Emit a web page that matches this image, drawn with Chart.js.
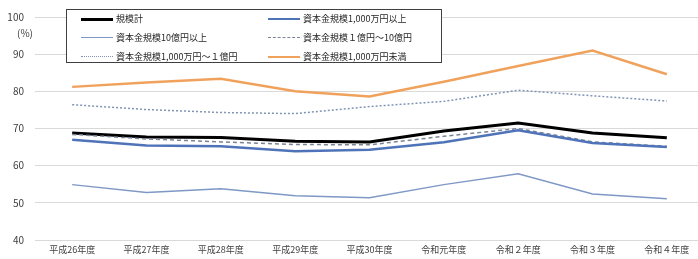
<!DOCTYPE html>
<html>
<head>
<meta charset="utf-8">
<script src="https://cdn.jsdelivr.net/npm/chart.js@4"></script>
<style>
    html, body { margin: 0; padding: 0; background: #fff; overflow: hidden; }
    body { width: 698px; height: 259px; position: relative; font-family: "Noto Sans CJK JP", sans-serif; }
    #wrap { position: absolute; left: 0; top: 0; width: 704px; height: 259px; }
    #unit { position: absolute; left: 17px; top: 25px; font-size: 10px; color: #404040; }
    #legend {
        position: absolute; left: 66px; top: 9px; width: 376px; height: 54px;
        border: 1.5px solid #404040; background: #fff; box-sizing: border-box;
        font-size: 9px; color: #262626;
    }
    .item { position: absolute; height: 12px; line-height: 12px; white-space: nowrap; }
    .swatch { position: absolute; left: 0; top: 5px; width: 32px; height: 0; }
    .item span { position: absolute; left: 35px; top: 0; }
</style>
</head>
<body>
<div id="wrap"><canvas id="chart"></canvas></div>
<div id="unit">(%)</div>
<div id="legend"></div>
<script>
const categories = ['平成26年度', '平成27年度', '平成28年度', '平成29年度', '平成30年度', '令和元年度', '令和２年度', '令和３年度', '令和４年度'];
const yTicks = [40, 50, 60, 70, 80, 90, 100];

const totalAll = [68.8, 67.7, 67.6, 66.6, 66.4, 69.3, 71.5, 68.8, 67.5];
const over10M = [67.0, 65.4, 65.2, 63.9, 64.3, 66.3, 69.5, 66.1, 65.0];
const over1B = [54.9, 52.8, 53.8, 51.9, 51.4, 54.9, 57.8, 52.4, 51.1];
const from100Mto1B = [68.4, 67.2, 66.4, 65.7, 65.6, 67.9, 70.0, 66.4, 65.2];
const from10Mto100M = [76.4, 75.1, 74.3, 74.0, 75.9, 77.3, 80.3, 78.8, 77.4];
const under10M = [81.2, 82.4, 83.4, 80.0, 78.6, 82.6, 86.8, 91.0, 84.6];

const series = [
    { label: '規模計', data: totalAll, color: '#000000', width: 3, dash: [], css: 'solid', col: 0, row: 0 },
    { label: '資本金規模1,000万円以上', data: over10M, color: '#4F73B8', width: 2.5, dash: [], css: 'solid', col: 1, row: 0 },
    { label: '資本金規模10億円以上', data: over1B, color: '#7F98C6', width: 1.5, dash: [], css: 'solid', col: 0, row: 1 },
    { label: '資本金規模１億円～10億円', data: from100Mto1B, color: '#7A8496', width: 1.5, dash: [4, 3], css: 'dashed', col: 1, row: 1 },
    { label: '資本金規模1,000万円～１億円', data: from10Mto100M, color: '#8294B4', width: 1.5, dash: [2, 2], css: 'dotted', col: 0, row: 2 },
    { label: '資本金規模1,000万円未満', data: under10M, color: '#F0A25C', width: 2.5, dash: [], css: 'solid', col: 1, row: 2 }
];

// draw order: thin lines first, black on top
const drawOrder = [2, 4, 5, 1, 3, 0];

const legend = document.getElementById('legend');
series.forEach(s => {
    const item = document.createElement('div');
    item.className = 'item';
    item.style.left = (s.col === 0 ? 14 : 201) + 'px';
    item.style.top = (3 + s.row * 19) + 'px';
    const sw = document.createElement('div');
    sw.className = 'swatch';
    sw.style.borderTop = Math.max(1.5, s.width) + 'px ' + s.css + ' ' + s.color;
    const tx = document.createElement('span');
    tx.textContent = s.label;
    item.appendChild(sw);
    item.appendChild(tx);
    legend.appendChild(item);
});

new Chart(document.getElementById('chart'), {
    type: 'line',
    data: {
        labels: categories,
        datasets: series.map((s, i) => ({
            label: s.label,
            data: s.data,
            borderColor: s.color,
            borderWidth: s.width,
            borderDash: s.dash,
            fill: false,
            tension: 0,
            pointRadius: 0,
            order: drawOrder.indexOf(i)
        })).reverse()
    },
    options: {
        responsive: true,
        maintainAspectRatio: false,
        animation: false,
        layout: { padding: { top: 15, right: 0, left: 0, bottom: 0 } },
        scales: {
            x: {
                offset: true,
                afterFit: axis => { axis.height = 19; },
                grid: { display: false, drawTicks: false },
                border: { display: false },
                ticks: {
                    color: '#404040',
                    font: { family: '"Noto Sans CJK JP"', size: 9 },
                    maxRotation: 0,
                    autoSkip: false,
                    padding: 4
                }
            },
            y: {
                min: 40,
                max: 100,
                afterBuildTicks: axis => { axis.ticks = yTicks.map(v => ({ value: v })); },
                afterFit: axis => { axis.width = 35; },
                grid: { color: '#d9d9d9', drawTicks: false },
                border: { display: false },
                ticks: {
                    color: '#404040',
                    font: { family: '"Noto Sans CJK JP"', size: 10 },
                    padding: 11
                }
            }
        },
        plugins: {
            legend: { display: false },
            tooltip: { enabled: false }
        }
    }
});
</script>
</body>
</html>
